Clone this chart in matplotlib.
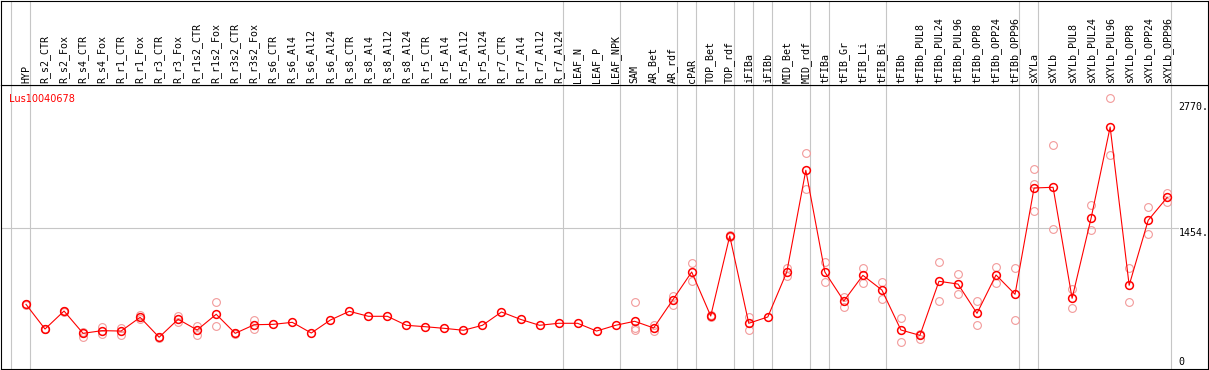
import numpy as np
import matplotlib.pyplot as plt
from matplotlib.transforms import blended_transform_factory

plt.rcParams["font.family"] = "DejaVu Sans"

gene = "Lus10040678"

samples = ["HYP",
           "R_s2_CTR", "R_s2_Fox", "R_s4_CTR", "R_s4_Fox", "R_r1_CTR", "R_r1_Fox",
           "R_r3_CTR", "R_r3_Fox", "R_r1s2_CTR", "R_r1s2_Fox", "R_r3s2_CTR", "R_r3s2_Fox",
           "R_s6_CTR", "R_s6_Al4", "R_s6_Al12", "R_s6_Al24",
           "R_s8_CTR", "R_s8_Al4", "R_s8_Al12", "R_s8_Al24",
           "R_r5_CTR", "R_r5_Al4", "R_r5_Al12", "R_r5_Al24",
           "R_r7_CTR", "R_r7_Al4", "R_r7_Al12", "R_r7_Al24",
           "LEAF_N", "LEAF_P", "LEAF_NPK",
           "SAM", "AR_Bet", "AR_rdf", "cPAR", "TOP_Bet", "TOP_rdf", "iFIBa", "iFIBb",
           "MID_Bet", "MID_rdf", "tFIBa", "tFIB_Gr", "tFIB_Li", "tFIB_Bi",
           "tFIBb", "tFIBb_PUL8", "tFIBb_PUL24", "tFIBb_PUL96",
           "tFIBb_OPP8", "tFIBb_OPP24", "tFIBb_OPP96",
           "sXYLa", "sXYLb", "sXYLb_PUL8", "sXYLb_PUL24", "sXYLb_PUL96",
           "sXYLb_OPP8", "sXYLb_OPP24", "sXYLb_OPP96"]

means = [660, 402, 590, 357, 385, 381, 524, 316, 504, 392, 556, 357, 447,
         451, 472, 360, 496, 587, 535, 535, 441, 426, 409, 389, 441,
         580, 503, 441, 462, 462, 381, 441,
         483, 413, 705, 998, 538, 1374, 462, 528,
         998, 2061, 998, 695, 963, 810,
         392, 336, 901, 872, 566, 967, 765,
         1876, 1883, 723, 1562, 2513, 859, 1538, 1778]

replicates = [[655, 665], [398, 406], [585, 595], [374, 316], [426, 350],
              [410, 336], [548, 504], [320, 312], [541, 472], [437, 336],
              [684, 437], [365, 350], [493, 405],
              [], [], [], [], [], [], [], [], [], [], [], [], [], [], [], [],
              [], [], [],
              [681, 410, 392], [441, 385], [750, 653], [1092, 901], [545, 532],
              [1380, 1368], [531, 392], [],
              [1037, 956], [2238, 1865], [1102, 890], [733, 632], [1040, 880],
              [893, 716],
              [520, 263], [301, 345], [1102, 695], [974, 768], [691, 441],
              [1047, 880], [1036, 496],
              [2071, 1917, 1635], [2325, 1444], [820, 618], [1695, 1433],
              [2813, 2217], [1036, 684], [1674, 1392], [1827, 1733]]

# index of the last sample in each group (separator drawn right of it)
group_ends = [-1, 0, 28, 31, 34, 35, 37, 38, 39, 41, 42, 45, 52, 53, 60]

ytick_vals = [2770, 1454]

W, H = 1209, 370
fig = plt.figure(figsize=(W / 100, H / 100), dpi=100)

def box(l, t, r, b):
    return [l / W, 1 - b / H, (r - l) / W, (b - t) / H]

ax = fig.add_axes(box(1, 85, 1208, 369))
hx = fig.add_axes(box(1, 0.5, 1208, 85), sharex=ax)

ax.set_xlim(-1.314, 62.145)
ax.set_ylim(-15.7, 2952)
hx.set_ylim(85, 0)

for a in (ax, hx):
    a.set_xticks([])
    a.set_yticks([])
    for s in a.spines.values():
        s.set_color('black')
        s.set_linewidth(0.8)

grey = '#c6c6c6'
for g in group_ends:
    ax.axvline(g + 0.21, color=grey, lw=0.8, zorder=0)
    hx.axvline(g + 0.21, color=grey, lw=0.8, zorder=0)
ax.axhline(ytick_vals[1], xmax=0.975, color=grey, lw=0.8, zorder=0)

x = np.arange(len(samples))
rx = [i for i, r in enumerate(replicates) for v in r]
ry = [v for r in replicates for v in r]
ax.plot(rx, ry, ls='none', marker='o', ms=5.6, mfc='none', mec='#f29a9a', mew=0.8, zorder=2)
ax.plot(x, means, color='#ff0000', lw=0.8, zorder=3)
ax.plot(x, means, ls='none', marker='o', ms=5.6, mfc='none', mec='#ff0000', mew=1.1, zorder=4)

for i, name in enumerate(samples):
    hx.text(i, 83, name, rotation=90, ha='center', va='bottom',
            fontsize=7.2, family='DejaVu Sans Mono', color='black')

ax.text(0.0069, 0.968, gene, transform=ax.transAxes, color='red',
        fontsize=7, ha='left', va='top')

tr = blended_transform_factory(ax.transAxes, ax.transData)
for v in ytick_vals:
    ax.text(0.9757, v, str(v) + '.', transform=tr, ha='left', va='top',
            fontsize=7.2, family='DejaVu Sans Mono')
ax.text(0.9757, 0, '0', transform=tr, ha='left', va='bottom',
        fontsize=7.2, family='DejaVu Sans Mono')

plt.savefig('out.png', dpi=100)
